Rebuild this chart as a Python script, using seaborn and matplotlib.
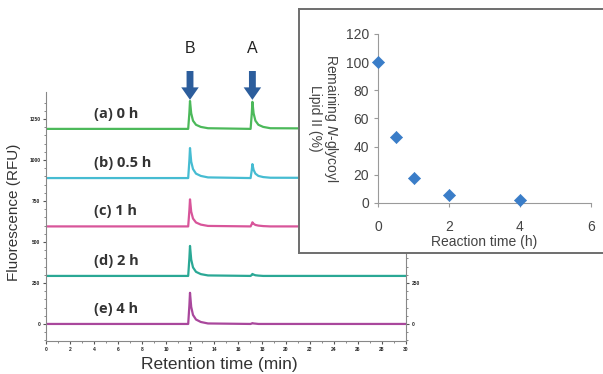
import matplotlib
matplotlib.use("Agg")
import matplotlib.pyplot as plt
import seaborn as sns
import pandas as pd

# chromatogram traces (relative signal above each baseline), shared time points
times = [0, 11.85, 11.95, 12.0, 12.1, 12.25, 12.5, 12.9, 13.5,
         17.05, 17.15, 17.2, 17.3, 17.45, 17.7, 18.1, 18.7, 30]
trace_a = [0, 0, 100, 170, 95, 50, 25, 12, 4, 0, 95, 165, 95, 50, 25, 12, 4, 0]
trace_b = [0, 0, 110, 183, 100, 55, 27, 13, 4, 0, 50, 85, 50, 27, 13, 6, 2, 0]
trace_c = [0, 0, 100, 165, 90, 48, 24, 11, 3, 0, 15, 25, 16, 9, 5, 2, 0, 0]
trace_d = [0, 0, 110, 183, 100, 52, 25, 11, 3, 0, 7, 12, 8, 4, 2, 0, 0, 0]
trace_e = [0, 0, 115, 190, 104, 55, 27, 12, 3, 0, 3, 5, 3, 2, 0, 0, 0, 0]
baselines = [1190, 890, 595, 293, 0]
trace_labels = ["(a) 0 h", "(b) 0.5 h", "(c) 1 h", "(d) 2 h", "(e) 4 h"]
trace_colors = ["#4cb95a", "#46bcd2", "#d8559a", "#2aa895", "#a9479c"]

# inset: remaining N-glycoyl Lipid II
reaction_h = [0, 0.5, 1, 2, 4]
remaining_pct = [100, 47, 18, 6, 2]

sns.set_style("ticks")
plt.rcParams["font.family"] = ["Liberation Sans", "DejaVu Sans"]

fig = plt.figure(figsize=(6.03, 3.74), dpi=100)
ax = fig.add_axes([46 / 603, 33 / 374, 360 / 603, 249 / 374])

rows = []
for lab, base, vals in zip(trace_labels, baselines,
                           [trace_a, trace_b, trace_c, trace_d, trace_e]):
    for t, v in zip(times, vals):
        rows.append({"time": t, "signal": base + v, "trace": lab})
df = pd.DataFrame(rows)

sns.lineplot(data=df, x="time", y="signal", hue="trace", palette=trace_colors,
             hue_order=trace_labels, legend=False, lw=1.6, ax=ax, sort=False,
             estimator=None)

for lab, base in zip(trace_labels, baselines):
    ax.text(4.0, base + 92, lab, fontsize=10.5, fontweight="bold",
            color="#333333", va="center", ha="left", family="Open Sans")

ax.set_xlim(0, 30)
ax.set_ylim(-104, 1415)
ax.set_xticks(range(0, 31, 2))
ax.set_xticks(range(0, 31, 1), minor=True)
ax.set_yticks([0, 250, 500, 750, 1000, 1250])
ax.set_yticks(range(-100, 1400, 50), minor=True)
ax.tick_params(labelsize=3.5, length=2.5, width=0.8, colors="#555555",
               labelcolor="#222222", right=True, labelright=True, pad=1.5)
ax.tick_params(which="minor", length=1.5, width=0.6, colors="#777777", right=True)
for lbl in ax.get_xticklabels() + ax.get_yticklabels():
    lbl.set_fontweight("bold")
ax.spines["top"].set_visible(False)
for s in ["left", "right", "bottom"]:
    ax.spines[s].set_color("#888888")
    ax.spines[s].set_linewidth(0.8)
ax.set_xlabel("")
ax.set_ylabel("")
fig.text(219 / 603, 1 - 364 / 374, "Retention time (min)", fontsize=12.5,
         color="#333333", ha="center", va="center")
fig.text(14 / 603, 1 - 212 / 374, "Fluorescence (RFU)", fontsize=11,
         color="#333333", ha="center", va="center", rotation=90)

# arrows marking peaks B and A
for name, xpos in [("B", 12.0), ("A", 17.2)]:
    ax.annotate("", xy=(xpos, 1350), xytext=(xpos, 1560),
                arrowprops=dict(arrowstyle="simple,head_width=1.4,head_length=1.0,tail_width=0.55",
                                mutation_scale=9, color="#2c5d9c", lw=0),
                annotation_clip=False)
    ax.text(xpos, 1680, name, fontsize=11.5, ha="center", va="center",
            color="#222222", clip_on=False)

# inset frame
frame = fig.add_axes([299 / 603, 1 - 253 / 374, 320 / 603, 244 / 374], zorder=3)
frame.set_xticks([])
frame.set_yticks([])
frame.set_facecolor("white")
for s in frame.spines.values():
    s.set_color("#6e6e6e")
    s.set_linewidth(1.4)

ins = fig.add_axes([378 / 603, 1 - 203 / 374, 213 / 603, 169 / 374], zorder=4)
ins.patch.set_alpha(0)
sns.scatterplot(x=reaction_h, y=remaining_pct, marker="D", s=38, color="#3a7dc8",
                edgecolor="#3a7dc8", ax=ins, zorder=5, clip_on=False)
ins.set_xlim(0, 6)
ins.set_ylim(0, 120)
ins.set_xticks([0, 2, 4, 6])
ins.set_yticks(range(0, 121, 20))
ins.spines["top"].set_visible(False)
ins.spines["right"].set_visible(False)
for s in ["left", "bottom"]:
    ins.spines[s].set_color("#9a9a9a")
    ins.spines[s].set_linewidth(0.8)
ins.tick_params(labelsize=10, colors="#9a9a9a", labelcolor="#444444", length=3, width=0.8)
ins.tick_params(axis="x", pad=9)
ins.set_xlabel("Reaction time (h)", fontsize=10, color="#444444", labelpad=1)
ins.set_ylabel("Remaining $N$-glycoyl\nLipid II (%)", fontsize=10, color="#444444",
               rotation=270, linespacing=1.0)
ins.yaxis.set_label_coords(-0.255, 0.5)
ins.yaxis.label.set_va("center")

fig.savefig("out.png", dpi=100)
